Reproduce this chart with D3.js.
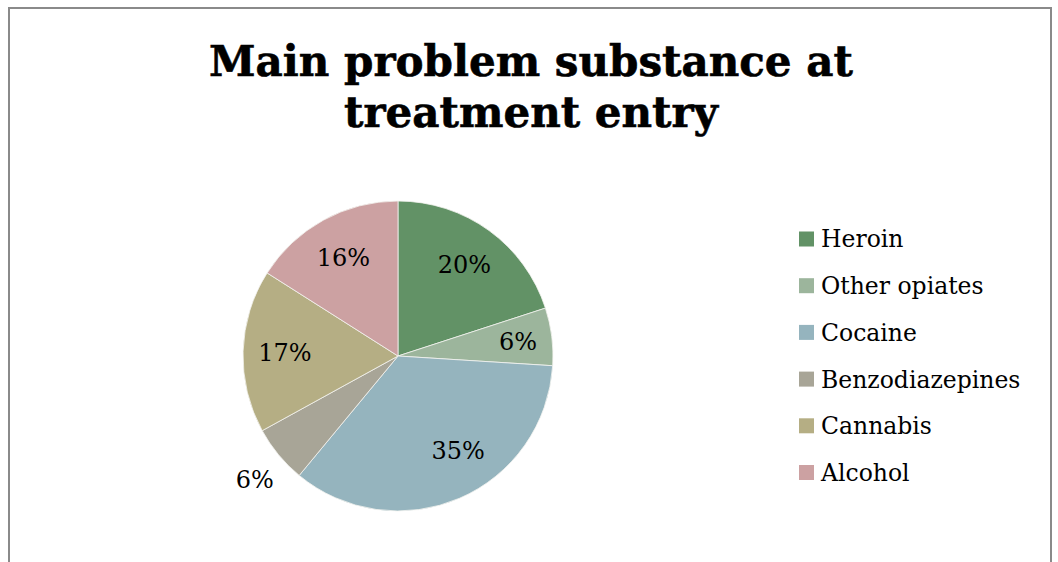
<!DOCTYPE html>
<html>
<head>
<meta charset="utf-8">
<script src="https://cdn.jsdelivr.net/npm/d3@7/dist/d3.min.js"></script>
<style>
  html, body { margin: 0; padding: 0; background: #fff; }
  svg { display: block; }
</style>
</head>
<body>
<svg id="chart" width="1058" height="562"></svg>
<script>
// Main problem substance at treatment entry (share of entrants, %)
const categories = ["Heroin", "Other opiates", "Cocaine", "Benzodiazepines", "Cannabis", "Alcohol"];
const shares = [20, 6, 35, 6, 17, 16];
const sliceColors = ["#629266", "#9cb59c", "#95b4be", "#a8a597", "#b5ae84", "#cca1a2"];
const titleLines = ["Main problem substance at", "treatment entry"];

const svg = d3.select("#chart");
const serif = "'DejaVu Serif', serif";

// outer chart frame (runs past the bottom edge)
svg.append("rect")
  .attr("x", 9).attr("y", 8)
  .attr("width", 1042).attr("height", 600)
  .attr("fill", "#fff")
  .attr("stroke", "#8a8a8a").attr("stroke-width", 2);

// title: two centred bold lines, sized so the first line spans the header
const title = svg.append("g").attr("font-family", serif).attr("font-weight", "bold").attr("fill", "#000");
const probe = title.append("text").attr("font-size", 100).text(titleLines[0]);
const titleSize = 100 * 644 / probe.node().getComputedTextLength();
probe.remove();
title.selectAll("text").data(titleLines).join("text")
  .attr("x", 531)
  .attr("y", (d, i) => 76 + i * 51)
  .attr("text-anchor", "middle")
  .attr("font-size", titleSize)
  .attr("stroke", "#000").attr("stroke-width", 0.6)
  .text(d => d);

// pie
const cx = 398, cy = 356, R = 155;
const data = categories.map((c, i) => ({ name: c, value: shares[i], color: sliceColors[i] }));
const pie = d3.pie().value(d => d.value).sort(null);
const arcs = pie(data);
const arc = d3.arc().innerRadius(0).outerRadius(R);

const g = svg.append("g").attr("transform", `translate(${cx},${cy})`);
g.selectAll("path").data(arcs).join("path")
  .attr("d", arc)
  .attr("fill", d => d.data.color)
  .attr("stroke", "#f4f4f0").attr("stroke-width", 0.8);

// data labels: inside by default, narrow slices nudged outward / outside
const labelPlacement = {
  "Other opiates": { r: 0.78 },
  "Cocaine": { r: 0.72, shift: -0.16 },
  "Benzodiazepines": { r: 1.22, shift: -0.02 }
};
g.selectAll("text.pct").data(arcs).join("text")
  .attr("class", "pct")
  .each(function (d) {
    const p = labelPlacement[d.data.name] || { r: 0.73 };
    const a = (d.startAngle + d.endAngle) / 2 + (p.shift || 0);
    const rr = R * p.r;
    d3.select(this)
      .attr("x", rr * Math.sin(a))
      .attr("y", -rr * Math.cos(a));
  })
  .attr("dy", "0.36em")
  .attr("text-anchor", "middle")
  .attr("font-family", serif)
  .attr("font-size", 24)
  .attr("fill", "#000")
  .text(d => d.data.value + "%");

// legend
const legend = svg.append("g").attr("transform", "translate(799,239)");
const rows = legend.selectAll("g").data(data).join("g")
  .attr("transform", (d, i) => `translate(0,${i * 46.7})`);
rows.append("rect")
  .attr("x", 0).attr("y", -7.5)
  .attr("width", 15).attr("height", 15)
  .attr("fill", d => d.color);
rows.append("text")
  .attr("x", 22).attr("dy", "0.36em")
  .attr("font-family", serif)
  .attr("font-size", 23.5)
  .attr("fill", "#000")
  .text(d => d.name);
</script>
</body>
</html>
